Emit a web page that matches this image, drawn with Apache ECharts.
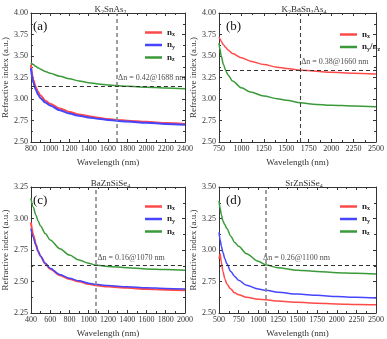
<!DOCTYPE html>
<html>
<head>
<meta charset="utf-8">
<title>Refractive index</title>
<script src="https://cdn.jsdelivr.net/npm/echarts@6/dist/echarts.min.js"></script>
<style>
html,body{margin:0;padding:0;background:#fff;}
#main{width:387px;height:339px;}
</style>
</head>
<body>
<div id="main"></div>
<script>
// panel (a) K2SnAs2
var waveA = [800, 825, 850, 875, 900, 950, 1000, 1100, 1200, 1300, 1400, 1500, 1600, 1688, 1800, 2000, 2200, 2400];
var nxA = [3.40, 3.22, 3.14, 3.08, 3.04, 2.98, 2.945, 2.89, 2.85, 2.82, 2.80, 2.782, 2.767, 2.757, 2.747, 2.735, 2.72, 2.71];
var nyA = [3.36, 3.19, 3.11, 3.05, 3.01, 2.96, 2.925, 2.87, 2.83, 2.805, 2.785, 2.77, 2.757, 2.747, 2.737, 2.725, 2.71, 2.70];
var nzA = [3.42, 3.40, 3.38, 3.362, 3.347, 3.32, 3.30, 3.265, 3.235, 3.21, 3.19, 3.175, 3.164, 3.156, 3.149, 3.138, 3.128, 3.12];
var cutA = [1688, 3.155];
// panel (b) K2BaSn2As4
var waveB = [750, 760, 775, 800, 825, 850, 900, 1000, 1100, 1250, 1400, 1500, 1660, 1800, 2000, 2250, 2500];
var nxB = [3.72, 3.70, 3.67, 3.63, 3.60, 3.57, 3.53, 3.48, 3.44, 3.40, 3.37, 3.355, 3.335, 3.325, 3.31, 3.30, 3.29];
var nyzB = [3.65, 3.58, 3.50, 3.40, 3.33, 3.28, 3.21, 3.13, 3.08, 3.035, 3.003, 2.985, 2.955, 2.94, 2.928, 2.918, 2.91];
var cutB = [1660, 3.335];
// panel (c) BaZnSiSe4
var waveC = [400, 425, 450, 475, 500, 550, 600, 700, 800, 900, 1000, 1070, 1200, 1400, 1600, 1800, 2000];
var nxC = [2.97, 2.87, 2.80, 2.74, 2.70, 2.64, 2.60, 2.55, 2.52, 2.50, 2.48, 2.47, 2.46, 2.45, 2.44, 2.435, 2.43];
var nyC = [2.92, 2.85, 2.79, 2.74, 2.70, 2.645, 2.605, 2.555, 2.525, 2.505, 2.487, 2.478, 2.468, 2.458, 2.45, 2.445, 2.44];
var nzC = [3.16, 3.09, 3.03, 2.98, 2.94, 2.88, 2.83, 2.76, 2.71, 2.67, 2.645, 2.63, 2.62, 2.61, 2.60, 2.595, 2.59];
var cutC = [1070, 2.625];
// panel (d) SrZnSiSe4
var waveD = [500, 515, 530, 550, 575, 600, 650, 700, 750, 850, 1000, 1100, 1250, 1500, 1750, 2000, 2250, 2500];
var nxD = [2.93, 2.97, 2.90, 2.83, 2.77, 2.73, 2.69, 2.66, 2.645, 2.625, 2.61, 2.605, 2.595, 2.585, 2.578, 2.572, 2.568, 2.565];
var nyD = [3.14, 3.08, 3.03, 2.98, 2.93, 2.89, 2.83, 2.79, 2.76, 2.72, 2.69, 2.68, 2.665, 2.65, 2.64, 2.63, 2.625, 2.62];
var nzD = [3.39, 3.33, 3.28, 3.23, 3.20, 3.17, 3.11, 3.06, 3.03, 2.97, 2.91, 2.88, 2.86, 2.84, 2.83, 2.82, 2.815, 2.81];
var cutD = [1100, 2.88];

var titles = ['{t|K}{s|2}{t|SnAs}{s|2}', '{t|K}{s|2}{t|BaSn}{s|2}{t|As}{s|4}', '{t|BaZnSiSe}{s|4}', '{t|SrZnSiSe}{s|4}'];
var deltaText = ['Δn = 0.42@1688 nm', 'Δn = 0.38@1660 nm', 'Δn = 0.16@1070 nm', 'Δn = 0.26@1100 nm'];
var deltaPos = [[1705, 3.24], [1665, 3.43], [1090, 2.69], [1060, 2.94]];
var panelTag = ['(a)', '(b)', '(c)', '(d)'];

var FONT = 'Liberation Serif';
var RED = '#ff4a4a', BLUE = '#4545ff', GREEN = '#3a9a3a';

var grids = [
  {left: 26, top: 13, width: 159, height: 129},
  {left: 219, top: 13, width: 160, height: 129},
  {left: 26, top: 187, width: 159, height: 127},
  {left: 219, top: 187, width: 160, height: 127}
];
var xr = [[800, 2400, 200], [750, 2500, 250], [400, 2000, 200], [500, 2500, 250]];
var yr = [[2.5, 4.0, 0.25], [2.5, 4.0, 0.25], [2.25, 3.25, 0.25], [2.5, 3.5, 0.25]];

var xAxes = [], yAxes = [];
grids.forEach(function (g, i) {
  var common = {
    gridIndex: i, type: 'value', min: xr[i][0], max: xr[i][1], interval: xr[i][2],
    axisLine: {show: true, onZero: false, lineStyle: {color: '#333', width: 1}},
    axisTick: {inside: true, length: 3, lineStyle: {color: '#333'}},
    minorTick: {show: true, splitNumber: 2, length: 2, lineStyle: {color: '#333'}},
    splitLine: {show: false}
  };
  xAxes.push(Object.assign({}, common, {
    position: 'bottom',
    name: 'Wavelength (nm)', nameLocation: 'middle', nameGap: 16,
    nameTextStyle: {fontFamily: FONT, fontSize: 9, color: '#333'},
    axisLabel: {fontFamily: FONT, fontSize: 8, color: '#333', margin: 3,
      formatter: function (v) { return String(v); }}
  }));
  xAxes.push(Object.assign({}, common, {position: 'top', axisLabel: {show: false}}));
  var ycommon = {
    gridIndex: i, type: 'value', min: yr[i][0], max: yr[i][1], interval: yr[i][2],
    axisLine: {show: true, onZero: false, lineStyle: {color: '#333', width: 1}},
    axisTick: {inside: true, length: 3, lineStyle: {color: '#333'}},
    minorTick: {show: true, splitNumber: 2, length: 2, lineStyle: {color: '#333'}},
    splitLine: {show: false}
  };
  yAxes.push(Object.assign({}, ycommon, {
    position: 'left',
    name: 'Refractive index (a.u.)', nameLocation: 'middle', nameGap: 18,
    nameTextStyle: {fontFamily: FONT, fontSize: 9, color: '#333'},
    axisLabel: {fontFamily: FONT, fontSize: 8, color: '#333', margin: 3,
      formatter: function (v) { return v.toFixed(2); }}
  }));
  yAxes.push(Object.assign({}, ycommon, {position: 'right', axisLabel: {show: false}}));
});

function pair(xs, ys) { return xs.map(function (x, k) { return [x, ys[k]]; }); }

function curve(name, panel, xs, ys, color, width) {
  return {
    name: name, type: 'line', xAxisIndex: panel * 2, yAxisIndex: panel * 2,
    data: pair(xs, ys), smooth: 0.3, smoothMonotone: 'x', showSymbol: false, symbol: 'none',
    lineStyle: {color: color, width: width}, itemStyle: {color: color}, z: 3
  };
}

function cutLines(panel, cut) {
  return {
    type: 'line', xAxisIndex: panel * 2, yAxisIndex: panel * 2, data: [],
    markLine: {
      symbol: 'none', silent: true, label: {show: false}, animation: false,
      data: [
        {xAxis: cut[0], lineStyle: {color: panel === 1 ? '#444' : '#888', type: [4, 3], width: panel === 1 ? 1.1 : 1.6}},
        {yAxis: cut[1], lineStyle: {color: '#333', type: [4, 3], width: 1.1}}
      ]
    }, z: 2
  };
}

function deltaLabel(panel) {
  return {
    type: 'scatter', xAxisIndex: panel * 2, yAxisIndex: panel * 2,
    data: [deltaPos[panel]], symbolSize: 0.1, itemStyle: {color: 'rgba(0,0,0,0)'},
    label: {show: true, position: 'right', distance: 0, formatter: deltaText[panel],
      fontFamily: FONT, fontSize: 8, color: '#222'}, silent: true
  };
}

var series = [
  curve('a-nx', 0, waveA, nxA, RED, 2), curve('a-ny', 0, waveA, nyA, BLUE, 2), curve('a-nz', 0, waveA, nzA, GREEN, 1.5),
  cutLines(0, cutA), deltaLabel(0),
  curve('b-nx', 1, waveB, nxB, RED, 1.5), curve('b-nyz', 1, waveB, nyzB, GREEN, 1.5),
  cutLines(1, cutB), deltaLabel(1),
  curve('c-nx', 2, waveC, nxC, RED, 2), curve('c-ny', 2, waveC, nyC, BLUE, 1.5), curve('c-nz', 2, waveC, nzC, GREEN, 1.5),
  cutLines(2, cutC), deltaLabel(2),
  curve('d-nx', 3, waveD, nxD, RED, 1.5), curve('d-ny', 3, waveD, nyD, BLUE, 1.5), curve('d-nz', 3, waveD, nzD, GREEN, 1.5),
  cutLines(3, cutD), deltaLabel(3)
];

var legRich = {
  n: {fontFamily: FONT, fontWeight: 'bold', fontSize: 9, color: '#222'},
  s: {fontFamily: FONT, fontWeight: 'bold', fontSize: 6, color: '#222', padding: [4, 0, 0, 0]}
};
function legFmt(name) {
  var k = name.split('-')[1];
  if (k === 'nyz') return '{n|n}{s|y}{n|/n}{s|z}';
  return '{n|n}{s|' + k.charAt(1) + '}';
}
function legend(names, left, top) {
  return {
    data: names, left: left, top: top, orient: 'vertical', itemGap: 3,
    icon: 'rect', itemWidth: 17, itemHeight: 2.5, selectedMode: false,
    formatter: legFmt, textStyle: {rich: legRich, padding: [0, 0, 0, 0]}
  };
}

var titleRich = {
  t: {fontFamily: FONT, fontSize: 9, fontWeight: 'normal', color: '#333'},
  s: {fontFamily: FONT, fontSize: 6, fontWeight: 'normal', color: '#333', padding: [4, 0, 0, 0]}
};
var titleList = grids.map(function (g, i) {
  return {text: titles[i], left: g.left + g.width / 2, top: g.top - 13, textAlign: 'center',
    textStyle: {fontWeight: 'normal', rich: titleRich}};
});

var tags = grids.map(function (g, i) {
  return {type: 'text', left: g.left + 7, top: g.top + 7,
    style: {text: panelTag[i], fontFamily: FONT, fontSize: 13, fill: '#111'}};
});

var chart = echarts.init(document.getElementById('main'), null, {renderer: 'canvas'});
chart.setOption({
  animation: false,
  backgroundColor: '#fff',
  title: titleList,
  grid: grids,
  xAxis: xAxes,
  yAxis: yAxes,
  legend: [
    legend(['a-nx', 'a-ny', 'a-nz'], 140, 23),
    legend(['b-nx', 'b-nyz'], 335, 25),
    legend(['c-nx', 'c-ny', 'c-nz'], 140, 197),
    legend(['d-nx', 'd-ny', 'd-nz'], 335, 197)
  ],
  graphic: tags,
  series: series
});
</script>
</body>
</html>
